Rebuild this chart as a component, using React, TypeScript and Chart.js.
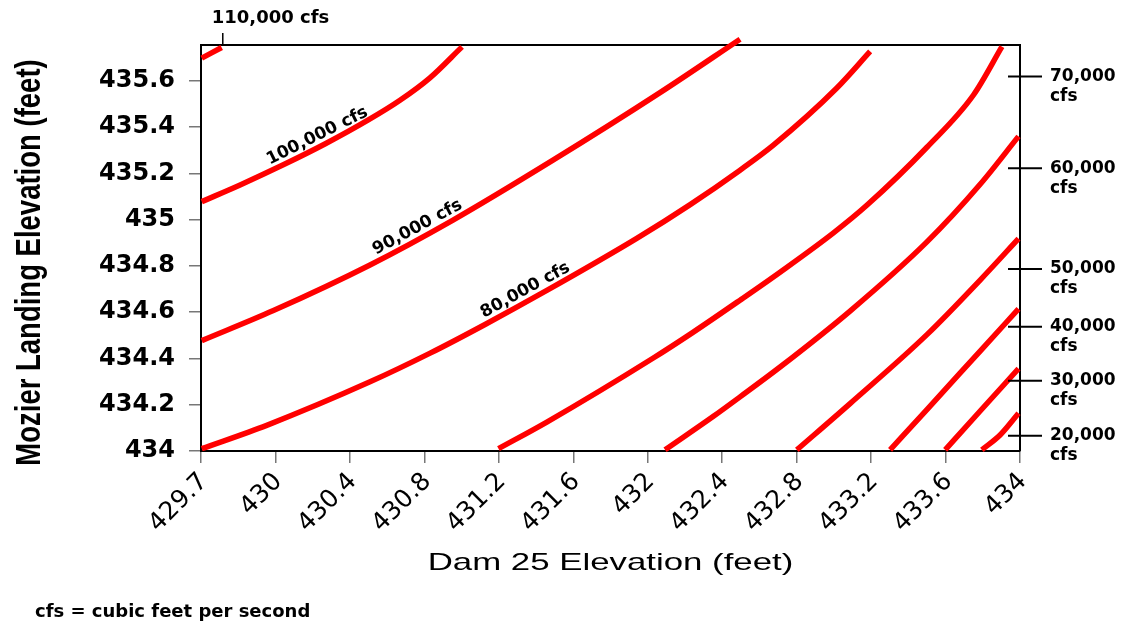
import React, { useEffect, useRef } from "react";
import { Chart, registerables } from "chart.js";

Chart.register(...registerables);

// ---------- axes ----------
const X_MIN = 429.6;
const X_MAX = 434;
const Y_MIN = 434;
const Y_MAX = 435.755;
const X_TICK_VALUES = [429.6, 430, 430.4, 430.8, 431.2, 431.6, 432, 432.4, 432.8, 433.2, 433.6, 434];
const X_TICK_LABELS = ["429.7", "430", "430.4", "430.8", "431.2", "431.6", "432", "432.4", "432.8", "433.2", "433.6", "434"];
const Y_TICK_VALUES = [434, 434.2, 434.4, 434.6, 434.8, 435, 435.2, 435.4, 435.6];

const X_TITLE = "Dam 25 Elevation (feet)";
const Y_TITLE = "Mozier Landing Elevation (feet)";
const FOOTNOTE = "cfs = cubic feet per second";

// ---------- contour lines: [Dam 25 elevation, Mozier Landing elevation] ----------
const CFS_110000: [number, number][] = [
  [429.604, 435.698], [429.711, 435.744],
];
const CFS_100000: [number, number][] = [
  [429.604, 435.078], [429.81, 435.15], [430.042, 435.237], [430.268, 435.328],
  [430.499, 435.431], [430.669, 435.516], [430.83, 435.613], [431.002, 435.747],
];
const CFS_90000: [number, number][] = [
  [429.604, 434.477], [429.989, 434.607], [430.508, 434.804], [430.954, 434.998],
  [431.491, 435.257], [432.066, 435.549], [432.496, 435.78],
];
const CFS_80000: [number, number][] = [
  [429.604, 434.01], [429.953, 434.111], [430.508, 434.299], [430.831, 434.423],
  [431.126, 434.547], [431.458, 434.694], [431.941, 434.919], [432.228, 435.065],
  [432.496, 435.214], [432.675, 435.322], [433.016, 435.569], [433.195, 435.727],
];
const CFS_70000: [number, number][] = [
  [431.198, 434.01], [431.458, 434.125], [432.03, 434.402], [432.245, 434.514],
  [432.496, 434.652], [432.711, 434.773], [432.998, 434.943], [433.177, 435.062],
  [433.5, 435.313], [433.75, 435.539], [433.903, 435.748],
];
const CFS_60000: [number, number][] = [
  [432.093, 434.005], [432.353, 434.15], [432.496, 434.234], [432.711, 434.363],
  [433.087, 434.605], [433.5, 434.904], [433.786, 435.153], [433.992, 435.36],
];
const CFS_50000: [number, number][] = [
  [432.801, 434.005], [433.087, 434.205], [433.5, 434.503], [433.786, 434.739], [433.992, 434.918],
];
const CFS_40000: [number, number][] = [
  [433.302, 434.005], [433.5, 434.179], [433.786, 434.432], [433.992, 434.614],
];
const CFS_30000: [number, number][] = [
  [433.598, 434.005], [433.786, 434.173], [433.992, 434.356],
];
const CFS_20000: [number, number][] = [
  [433.795, 434.005], [433.893, 434.069], [433.992, 434.163],
];

const CONTOURS = [
  { name: "110,000 cfs", points: CFS_110000 },
  { name: "100,000 cfs", points: CFS_100000 },
  { name: "90,000 cfs", points: CFS_90000 },
  { name: "80,000 cfs", points: CFS_80000 },
  { name: "70,000 cfs", points: CFS_70000 },
  { name: "60,000 cfs", points: CFS_60000 },
  { name: "50,000 cfs", points: CFS_50000 },
  { name: "40,000 cfs", points: CFS_40000 },
  { name: "30,000 cfs", points: CFS_30000 },
  { name: "20,000 cfs", points: CFS_20000 },
];

// in-line labels: which contour, and the Dam 25 elevation where the label sits
const INLINE_LABEL_TEXT = ["100,000 cfs", "90,000 cfs", "80,000 cfs"];
const INLINE_LABEL_SERIES = [1, 2, 3];
const INLINE_LABEL_X = [430.25, 430.79, 431.37];

// callouts on the right side (Mozier Landing elevation of each callout)
const RIGHT_LABEL_TEXT = ["70,000", "60,000", "50,000", "40,000", "30,000", "20,000"];
const RIGHT_LABEL_Y = [435.619, 435.222, 434.787, 434.537, 434.304, 434.066];

// callout on top
const TOP_LABEL_TEXT = "110,000 cfs";
const TOP_LABEL_X = 429.717;

function drawText(
  ctx: CanvasRenderingContext2D,
  text: string,
  x: number,
  y: number,
  font: string,
  align: CanvasTextAlign,
  baseline: CanvasTextBaseline,
  rot = 0,
  sx = 1,
  sy = 1
) {
  ctx.save();
  ctx.translate(x, y);
  if (rot) ctx.rotate(rot);
  ctx.scale(sx, sy);
  ctx.font = font;
  ctx.fillStyle = "#000";
  ctx.textAlign = align;
  ctx.textBaseline = baseline;
  ctx.fillText(text, 0, 0);
  ctx.restore();
}

const framePlugin = {
  id: "frame",
  beforeDatasetsDraw(chart: any) {
    const { ctx, chartArea: a } = chart;
    ctx.save();
    ctx.strokeStyle = "#000";
    ctx.lineWidth = 2;
    ctx.beginPath();
    ctx.moveTo(a.left, a.top);
    ctx.lineTo(a.right, a.top);
    ctx.lineTo(a.right, a.bottom);
    ctx.stroke();
    ctx.restore();
  },
};

const annotationPlugin = {
  id: "annotations",
  afterDraw(chart: any) {
    const { ctx, chartArea: a, scales } = chart;
    const xs = scales.x;
    const ys = scales.y;
    const bold = (s: number) => `bold ${s}px "DejaVu Sans"`;

    // in-line contour labels following the line direction
    INLINE_LABEL_TEXT.forEach((text, k) => {
      const meta = chart.getDatasetMeta(INLINE_LABEL_SERIES[k]);
      const pts = meta.data as any[];
      const px = xs.getPixelForValue(INLINE_LABEL_X[k]);
      let i = 0;
      while (i < pts.length - 2 && pts[i + 1].x < px) i++;
      const p1 = pts[i];
      const p2 = pts[i + 1];
      const t = (px - p1.x) / (p2.x - p1.x);
      const py = p1.y + t * (p2.y - p1.y);
      const ang = Math.atan2(p2.y - p1.y, p2.x - p1.x);
      const off = 10.5;
      drawText(ctx, text, px + off * Math.sin(ang), py - off * Math.cos(ang), bold(17), "center", "middle", ang);
    });

    // right callouts
    ctx.save();
    ctx.strokeStyle = "#000";
    ctx.lineWidth = 2;
    RIGHT_LABEL_TEXT.forEach((text, k) => {
      const y = ys.getPixelForValue(RIGHT_LABEL_Y[k]);
      ctx.beginPath();
      ctx.moveTo(a.right - 12, y);
      ctx.lineTo(a.right + 22, y);
      ctx.stroke();
      drawText(ctx, text, a.right + 30, y, bold(17), "left", "middle");
      drawText(ctx, "cfs", a.right + 30, y + 20, bold(17), "left", "middle");
    });
    // top callout
    const tx = xs.getPixelForValue(TOP_LABEL_X);
    ctx.lineWidth = 1.5;
    ctx.beginPath();
    ctx.moveTo(tx, a.top - 12);
    ctx.lineTo(tx, a.top);
    ctx.stroke();
    ctx.restore();
    drawText(ctx, TOP_LABEL_TEXT, tx - 11, 18, bold(18), "left", "middle");

    // axis titles
    drawText(ctx, X_TITLE, (a.left + a.right) / 2, 570, '24px "Liberation Sans"', "center", "alphabetic", 0, 1.45, 1);
    drawText(ctx, Y_TITLE, 40, 262.5, 'bold 27.5px "Liberation Sans"', "center", "alphabetic", -Math.PI / 2, 1, 1.3);

    // footnote
    drawText(ctx, FOOTNOTE, 35, 617, bold(18), "left", "alphabetic");
  },
};

export default function App() {
  const canvasRef = useRef<HTMLCanvasElement | null>(null);

  useEffect(() => {
    if (!canvasRef.current) return;
    Chart.defaults.font.family = '"DejaVu Sans"';
    const chart = new Chart(canvasRef.current, {
      type: "line",
      data: {
        datasets: CONTOURS.map((c) => ({
          label: c.name,
          data: c.points.map(([x, y]) => ({ x, y })),
          borderColor: "#ff0000",
          backgroundColor: "#ff0000",
          borderWidth: 5.5,
          pointRadius: 0,
          cubicInterpolationMode: "monotone" as const,
          fill: false,
          clip: false as any,
          borderCapStyle: "butt" as const,
        })),
      },
      options: {
        responsive: false,
        animation: false,
        events: [],
        layout: { padding: { top: 45, right: 106, left: 0, bottom: 0 } },
        plugins: {
          legend: { display: false },
          tooltip: { enabled: false },
          title: { display: false },
        },
        scales: {
          x: {
            type: "linear",
            min: X_MIN,
            max: X_MAX,
            afterBuildTicks: (s: any) => {
              s.ticks = X_TICK_VALUES.map((v) => ({ value: v }));
            },
            afterFit: (s: any) => {
              s.height = 174;
            },
            grid: { drawOnChartArea: false, drawTicks: true, tickLength: 12, color: "#777", lineWidth: 1.5 },
            border: { display: true, color: "#000", width: 2 },
            ticks: {
              autoSkip: false,
              minRotation: 45,
              maxRotation: 45,
              padding: 4,
              labelOffset: 3,
              color: "#000",
              font: { family: '"DejaVu Sans"', size: 25 },
              callback: (_v: any, i: number) => X_TICK_LABELS[i],
            },
          },
          y: {
            type: "linear",
            min: Y_MIN,
            max: Y_MAX,
            afterBuildTicks: (s: any) => {
              s.ticks = Y_TICK_VALUES.map((v) => ({ value: v }));
            },
            afterFit: (s: any) => {
              s.width = 201;
            },
            grid: { drawOnChartArea: false, drawTicks: true, tickLength: 12, color: "#777", lineWidth: 1.5 },
            border: { display: true, color: "#000", width: 2 },
            ticks: {
              autoSkip: false,
              padding: 14,
              color: "#000",
              font: { family: '"DejaVu Sans"', size: 24, weight: "bold" },
              callback: (v: any) => String(Math.round(Number(v) * 10) / 10),
            },
          },
        },
      } as any,
      plugins: [framePlugin, annotationPlugin],
    });
    return () => chart.destroy();
  }, []);

  return (
    <div style={{ position: "absolute", left: 0, top: 0, width: 1126, height: 625, background: "#fff" }}>
      <canvas ref={canvasRef} width={1126} height={625} style={{ display: "block" }} />
    </div>
  );
}
